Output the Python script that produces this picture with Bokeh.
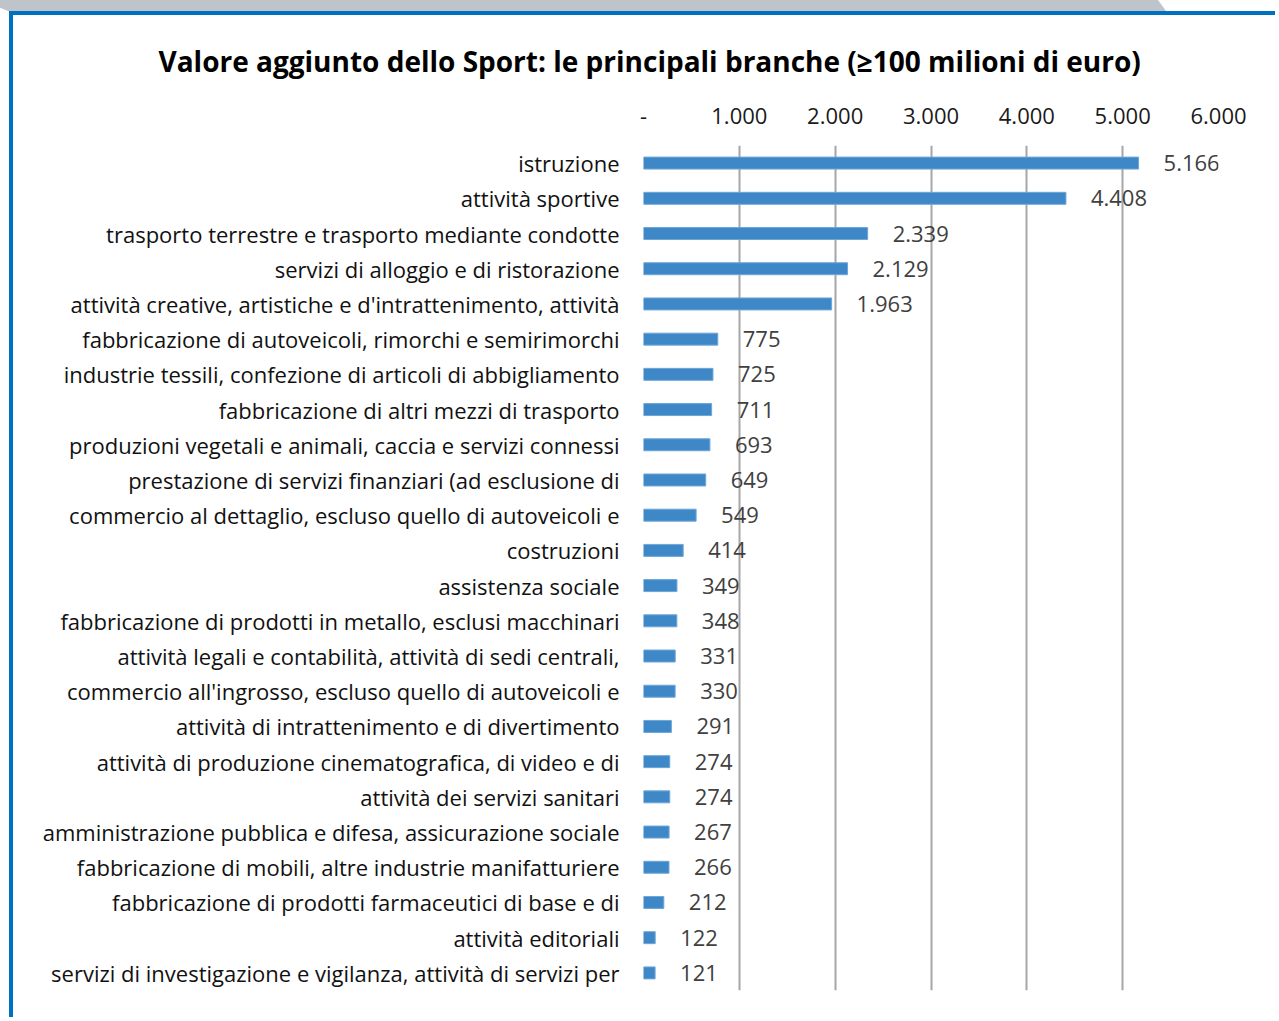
from bokeh.plotting import figure
from bokeh.layouts import column
from bokeh.models import FactorRange, Range1d, FixedTicker, ColumnDataSource, Div
from bokeh.core.properties import value
from bokeh.embed import file_html
from bokeh.resources import INLINE

categories = [
    "istruzione",
    "attività sportive",
    "trasporto terrestre e trasporto mediante condotte",
    "servizi di alloggio e di ristorazione",
    "attività creative, artistiche e d'intrattenimento, attività",
    "fabbricazione di autoveicoli, rimorchi e semirimorchi",
    "industrie tessili, confezione di articoli di abbigliamento",
    "fabbricazione di altri mezzi di trasporto",
    "produzioni vegetali e animali, caccia e servizi connessi",
    "prestazione di servizi finanziari (ad esclusione di",
    "commercio al dettaglio, escluso quello di autoveicoli e",
    "costruzioni",
    "assistenza sociale",
    "fabbricazione di prodotti in metallo, esclusi macchinari",
    "attività legali e contabilità, attività di sedi centrali,",
    "commercio all'ingrosso, escluso quello di autoveicoli e",
    "attività di intrattenimento e di divertimento",
    "attività di produzione cinematografica, di video e di",
    "attività dei servizi sanitari",
    "amministrazione pubblica e difesa, assicurazione sociale",
    "fabbricazione di mobili, altre industrie manifatturiere",
    "fabbricazione di prodotti farmaceutici di base e di",
    "attività editoriali",
    "servizi di investigazione e vigilanza, attività di servizi per",
]
values = [5166, 4408, 2339, 2129, 1963, 775, 725, 711, 693, 649, 549, 414,
          349, 348, 331, 330, 291, 274, 274, 267, 266, 212, 122, 121]
x_ticks = [0, 1000, 2000, 3000, 4000, 5000, 6000]
x_tick_labels = ["-", "1.000", "2.000", "3.000", "4.000", "5.000", "6.000"]
title_text = "Valore aggiunto dello Sport: le principali branche (≥100 milioni di euro)"

FONT = "Open Sans"
FS = "22px"

def fmt(v):
    return f"{v:,}".replace(",", ".")

source = ColumnDataSource(dict(cat=categories, val=values,
                               lab=[fmt(v) for v in values]))

W, H = 1266, 1006
p = figure(width=W, height=H, output_backend="svg", toolbar_location=None,
           y_range=FactorRange(factors=list(reversed(categories)), range_padding=0),
           x_range=Range1d(0, 6000), x_axis_location="above",
           min_border_left=630, min_border_right=61, min_border_top=130,
           min_border_bottom=31)
p.outline_line_color = None
p.background_fill_color = "white"
p.border_fill_color = "white"
p.styles = {"border-top": "4px solid #0070C0", "border-left": "4px solid #0070C0",
            "margin-left": "9px"}

p.title.text = title_text
p.title.align = "left"
p.title.offset = -485
p.title.text_font = FONT
p.title.text_font_size = "28px"
p.title.text_font_style = "bold"
p.title.text_color = "black"
p.title.standoff = 49

p.hbar(y="cat", right="val", left=0, height=0.34, source=source,
       fill_color="#3F88C8", line_color="#6FA6D8", line_width=1)
p.text(x="val", y="cat", text="lab", source=source, x_offset=25,
       text_align="left", text_baseline="middle", text_color="#404040",
       text_font=value(FONT), text_font_size=FS)

xa = p.xaxis[0]
xa.ticker = FixedTicker(ticks=x_ticks)
xa.major_label_overrides = {t: l for t, l in zip(x_ticks, x_tick_labels)}
xa.axis_line_color = None
xa.major_tick_line_color = None
xa.minor_tick_line_color = None
xa.major_label_text_font = FONT
xa.major_label_text_font_size = FS
xa.major_label_text_color = "#1a1a1a"
xa.major_label_standoff = 16

ya = p.yaxis[0]
ya.axis_line_color = None
ya.major_tick_line_color = None
ya.major_label_text_font = FONT
ya.major_label_text_font_size = FS
ya.major_label_text_color = "#111111"
ya.major_label_standoff = 18

p.xgrid.ticker = FixedTicker(ticks=x_ticks)
p.xgrid.grid_line_color = "#A6A6A6"
p.xgrid.grid_line_width = 2
p.ygrid.grid_line_color = None

band = Div(text="", width=1279, height=11, margin=0,
           styles={"background-color": "#BFC3CA",
                   "clip-path": "polygon(0 0, 1158px 0, 1166px 100%, 8px 100%, 0 70%)"})

layout = column(band, p, spacing=0)

open("out.html", "w").write(file_html(layout, INLINE))
